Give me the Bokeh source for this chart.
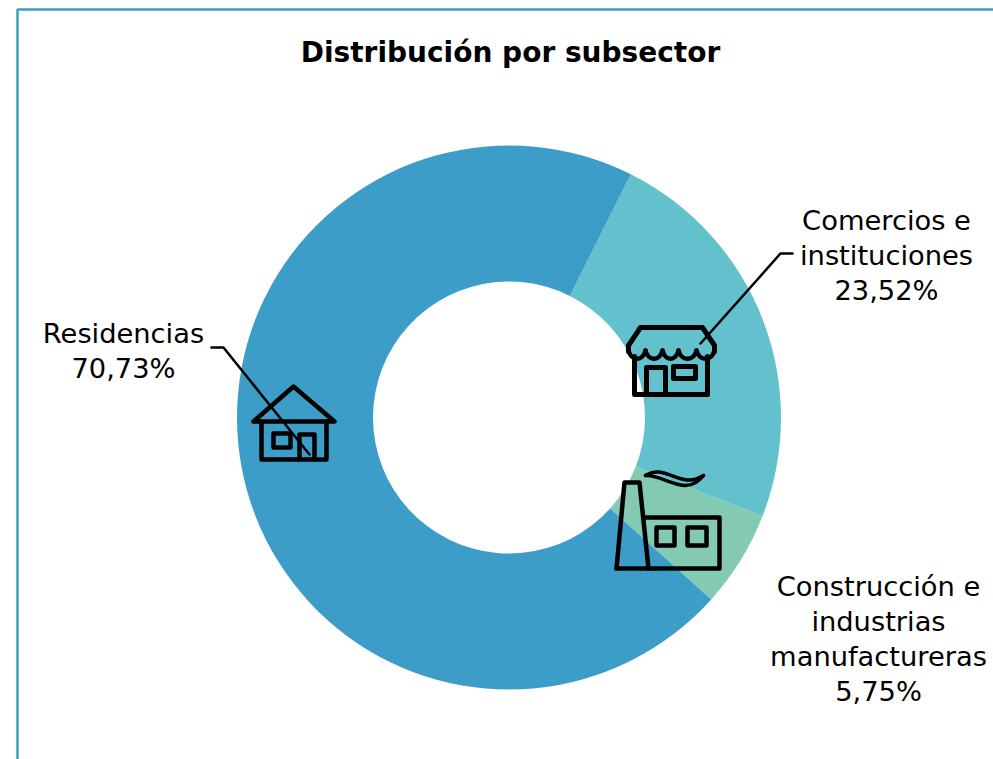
from math import pi
import numpy as np
from bokeh.plotting import figure
from bokeh.models import Range1d, ColumnDataSource
from bokeh.core.properties import value
from bokeh.embed import file_html
from bokeh.resources import INLINE

TITLE = "Distribución por subsector"
categories = ["Comercios e instituciones", "Construcción e industrias manufactureras", "Residencias"]
shares = [23.52, 5.75, 70.73]
colors = ["#62C1CC", "#84CAB2", "#3C9DC8"]
label_lines = [["Comercios e", "instituciones"], ["Construcción e", "industrias", "manufactureras"], ["Residencias"]]
label_text = ["23,52%", "5,75%", "70,73%"]

W, H = 993, 759
FONT = "DejaVu Sans"
BLACK = "#000000"
p = figure(width=W, height=H, output_backend="svg", toolbar_location=None,
           x_range=Range1d(0, W), y_range=Range1d(H, 0), min_border=0,
           x_axis_type="linear", background_fill_color="white", outline_line_color=None)
p.axis.visible = False
p.grid.visible = False

# outer frame
p.line([17, 17, 993], [759, 9, 9], line_color="#3D9DC4", line_width=2.5)

# doughnut: angles are screen angles, running clockwise from the top right
cx, cy, r_in, r_out = 508.5, 417, 136, 272
start = np.radians(90 - 26.6)
frac = np.array(shares) / sum(shares) * 2 * pi
ends = start - np.cumsum(frac)
starts = ends + frac
src = ColumnDataSource(dict(start=starts, end=ends, color=colors, cat=categories))
p.annular_wedge(x=cx, y=cy, inner_radius=r_in, outer_radius=r_out, start_angle="start", end_angle="end",
                direction="clock", fill_color="color", line_color=None, source=src)

def stroke(xs, ys, w=4.5):
    p.line(xs, ys, line_color=BLACK, line_width=w, line_join="round", line_cap="round")

# leader lines
stroke([211, 223, 309], [347, 347, 454], 2.5)
stroke([792, 780, 700], [253, 253, 343], 2.5)

# house icon
stroke([253, 293, 334, 253], [421, 386, 421, 421])
stroke([261, 261, 326, 326], [421, 459, 459, 421])
stroke([273, 290, 290, 273, 273], [433, 433, 447, 447, 433])
stroke([299, 299, 314, 314], [459, 434, 434, 459])

# shop icon
stroke([628, 640, 702, 714, 714], [345, 327, 327, 345, 351], 5)
stroke([628, 628], [345, 351], 5)
for x0, x1 in [(628, 645), (645, 662), (662, 678), (678, 696), (696, 714)]:
    p.bezier(x0=[x0], y0=[350], x1=[x1], y1=[350], cx0=[x0 + 3], cy0=[361], cx1=[x1 - 3], cy1=[361],
             line_color=BLACK, line_width=4.5, line_cap="round")
stroke([634, 634, 707, 707], [356, 394, 394, 356], 5)
stroke([646, 646, 665, 665], [394, 367, 367, 394], 5)
stroke([673, 695, 695, 673, 673], [366, 366, 378, 378, 366], 5)

# factory icon
stroke([616, 624, 639, 648], [568, 482, 482, 568])
stroke([643, 719, 719, 616], [517, 517, 568, 568])
stroke([656, 674, 674, 656, 656], [527, 527, 545, 545, 527])
stroke([687, 706, 706, 687, 687], [527, 527, 545, 545, 527])
p.bezier(x0=[645], y0=[475], x1=[703], y1=[475], cx0=[665], cy0=[462], cx1=[680], cy1=[490],
         line_color=BLACK, line_width=3.5, line_cap="round")
p.bezier(x0=[645], y0=[475], x1=[703], y1=[475], cx0=[665], cy0=[474], cx1=[685], cy1=[498],
         line_color=BLACK, line_width=3.5, line_cap="round")

# texts
def text(x, y, s, size, style="normal"):
    p.text([x], [y], text=[s], text_align="center", text_baseline="middle", text_color=BLACK,
           text_font=value(FONT), text_font_size=size, text_font_style=style)

text(510, 52, TITLE, "28px", "bold")
LABEL_POS = [(886, 220), (878, 586), (123, 333)]
STEP = 35
for (x, y), lines, val in zip(LABEL_POS, label_lines, label_text):
    for i, s in enumerate(lines + [val]):
        text(x, y + i * STEP, s, "27.3px")

open("out.html", "w").write(file_html(p, INLINE))
